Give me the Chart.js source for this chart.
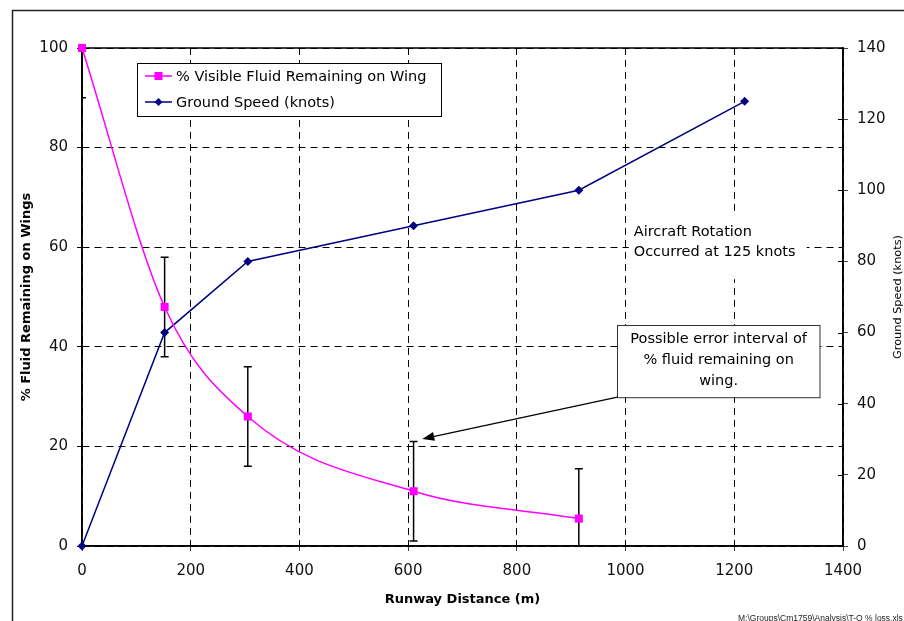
<!DOCTYPE html>
<html>
<head>
<meta charset="utf-8">
<script src="https://cdn.jsdelivr.net/npm/chart.js@4.4.0/dist/chart.umd.min.js"></script>
<style>
  html, body { margin: 0; padding: 0; background: #fff; }
</style>
</head>
<body>
<canvas id="chart" width="904" height="621"></canvas>
<script>
// runway distance (m) where fluid was measured
const fluidDistance = [0, 152, 305, 610, 914];
const fluidRemaining = [100, 48, 26, 11, 5.5];
const fluidError = [10, 10, 10, 10, 10];

const speedDistance = [0, 152, 305, 610, 914, 1219];
const groundSpeed = [0, 60, 80, 90, 100, 125];

const xTicks = [0, 200, 400, 600, 800, 1000, 1200, 1400];
const fluidTicks = [0, 20, 40, 60, 80, 100];
const speedTicks = [0, 20, 40, 60, 80, 100, 120, 140];

const FONT = "'DejaVu Sans', Verdana, sans-serif";

const extras = {
  id: "extras",
  beforeDatasetsDraw(chart) {
    const { ctx, chartArea: a, scales } = chart;
    const x = scales.x, y = scales.y;
    ctx.save();
    // plot area frame
    ctx.strokeStyle = "#000";
    ctx.lineWidth = 1.5;
    ctx.strokeRect(a.left, a.top, a.right - a.left, a.bottom - a.top);
    // inward half of the cross ticks
    ctx.lineWidth = 1;
    scales.y1.ticks.forEach(t => {
      const py = Math.round(scales.y1.getPixelForValue(t.value)) + 0.5;
      ctx.beginPath(); ctx.moveTo(a.right - 5, py); ctx.lineTo(a.right, py); ctx.stroke();
    });
    // error bars
    ctx.beginPath();
    ctx.rect(a.left, a.top, a.right - a.left, a.bottom - a.top);
    ctx.clip();
    ctx.strokeStyle = "#000";
    ctx.lineWidth = 1.5;
    fluidDistance.forEach((d, i) => {
      const px = x.getPixelForValue(d);
      const top = y.getPixelForValue(fluidRemaining[i] + fluidError[i]);
      const bot = y.getPixelForValue(fluidRemaining[i] - fluidError[i]);
      ctx.beginPath();
      ctx.moveTo(px, top); ctx.lineTo(px, bot);
      ctx.moveTo(px - 4, top); ctx.lineTo(px + 4, top);
      ctx.moveTo(px - 4, bot); ctx.lineTo(px + 4, bot);
      ctx.stroke();
    });
    ctx.restore();
  },
  afterDatasetsDraw(chart) {
    const { ctx, scales } = chart;
    const x = scales.x, y = scales.y;
    ctx.save();
    ctx.font = "14.5px " + FONT;
    ctx.textBaseline = "middle";

    // legend
    ctx.fillStyle = "#fff";
    ctx.fillRect(137, 63, 304, 53);
    ctx.strokeStyle = "#000";
    ctx.lineWidth = 1;
    ctx.strokeRect(137.5, 63.5, 304, 53);
    const items = chart.data.datasets;
    items.forEach((ds, i) => {
      const ly = 76 + i * 26;
      ctx.strokeStyle = ds.borderColor;
      ctx.lineWidth = 1.5;
      ctx.beginPath(); ctx.moveTo(145, ly); ctx.lineTo(172, ly); ctx.stroke();
      ctx.fillStyle = ds.backgroundColor;
      if (ds.pointStyle === "rect") {
        ctx.fillRect(154.5, ly - 4, 8, 8);
      } else {
        ctx.beginPath();
        ctx.moveTo(158.5, ly - 4); ctx.lineTo(162.5, ly); ctx.lineTo(158.5, ly + 4); ctx.lineTo(154.5, ly);
        ctx.closePath(); ctx.fill();
      }
      ctx.fillStyle = "#000";
      ctx.textAlign = "left";
      ctx.fillText(ds.label, 176, ly + 1);
    });

    // rotation note
    const nx = x.getPixelForValue(1015);
    const ny1 = y.getPixelForValue(63), ny2 = y.getPixelForValue(58.9);
    ctx.fillStyle = "#fff";
    ctx.fillRect(nx - 5, ny1 - 19, 178, 66);
    ctx.fillStyle = "#000";
    ctx.fillText("Aircraft Rotation", nx, ny1);
    ctx.fillText("Occurred at 125 knots", nx, ny2);

    // error interval callout
    const bx1 = x.getPixelForValue(985), bx2 = x.getPixelForValue(1357.5);
    const by1 = y.getPixelForValue(44.4), by2 = y.getPixelForValue(29.9);
    ctx.fillStyle = "#fff";
    ctx.fillRect(bx1, by1, bx2 - bx1, by2 - by1);
    ctx.strokeStyle = "#333";
    ctx.lineWidth = 1;
    ctx.strokeRect(Math.round(bx1) + 0.5, Math.round(by1) + 0.5, bx2 - bx1, by2 - by1);
    ctx.fillStyle = "#000";
    ctx.textAlign = "center";
    const cx = (bx1 + bx2) / 2;
    ["Possible error interval of", "% fluid remaining on", "wing."].forEach((s, i) => {
      ctx.fillText(s, cx, by1 + 14 + i * 21);
    });
    // arrow
    const tipX = x.getPixelForValue(626), tipY = y.getPixelForValue(21.5);
    const sx = bx1, sy = by2;
    const ang = Math.atan2(tipY - sy, tipX - sx);
    ctx.strokeStyle = "#000";
    ctx.lineWidth = 1.2;
    ctx.beginPath();
    ctx.moveTo(sx, sy);
    ctx.lineTo(tipX - 10 * Math.cos(ang), tipY - 10 * Math.sin(ang));
    ctx.stroke();
    ctx.fillStyle = "#000";
    ctx.beginPath();
    ctx.moveTo(tipX, tipY);
    ctx.lineTo(tipX - 12 * Math.cos(ang) + 4.5 * Math.sin(ang), tipY - 12 * Math.sin(ang) - 4.5 * Math.cos(ang));
    ctx.lineTo(tipX - 12 * Math.cos(ang) - 4.5 * Math.sin(ang), tipY - 12 * Math.sin(ang) + 4.5 * Math.cos(ang));
    ctx.closePath();
    ctx.fill();
    ctx.restore();
  },
  afterDraw(chart) {
    const { ctx, chartArea: a } = chart;
    ctx.save();
    // outer chart frame
    ctx.strokeStyle = "#222";
    ctx.lineWidth = 1.5;
    ctx.strokeRect(12.5, 10.5, 1000, 1000);
    // right axis title, reading upward
    ctx.fillStyle = "#000";
    ctx.font = "11.3px " + FONT;
    ctx.textAlign = "center";
    ctx.textBaseline = "middle";
    ctx.translate(898, (a.top + a.bottom) / 2);
    ctx.rotate(-Math.PI / 2);
    ctx.fillText("Ground Speed (knots)", 0, 0);
    ctx.restore();
    // file path footer
    ctx.save();
    ctx.fillStyle = "#222";
    ctx.font = "8.5px 'Liberation Sans', Arial, sans-serif";
    ctx.textAlign = "left";
    ctx.textBaseline = "top";
    ctx.fillText("M:\\Groups\\Cm1759\\Analysis\\T-O % loss.xls", 738, 614);
    ctx.restore();
  }
};

const tickFont = { family: FONT, size: 15 };
const plain = v => String(v);

new Chart(document.getElementById("chart"), {
  type: "line",
  data: {
    datasets: [{
      label: "% Visible Fluid Remaining on Wing",
      data: fluidDistance.map((d, i) => ({ x: d, y: fluidRemaining[i] })),
      yAxisID: "y",
      borderColor: "#ff00ff",
      backgroundColor: "#ff00ff",
      borderWidth: 1.5,
      pointStyle: "rect",
      pointRadius: 5.7,
      pointBorderWidth: 0,
      cubicInterpolationMode: "monotone",
      clip: false
    }, {
      label: "Ground Speed (knots)",
      data: speedDistance.map((d, i) => ({ x: d, y: groundSpeed[i] })),
      yAxisID: "y1",
      borderColor: "#000080",
      backgroundColor: "#000080",
      borderWidth: 1.5,
      pointStyle: "rectRot",
      pointRadius: 4.5,
      pointBorderWidth: 0,
      tension: 0,
      clip: false
    }]
  },
  options: {
    responsive: false,
    animation: false,
    events: [],
    layout: { padding: { top: 48, left: 0, right: 0, bottom: 0 }, autoPadding: false },
    plugins: { legend: { display: false }, tooltip: { enabled: false } },
    scales: {
      x: {
        type: "linear",
        min: 0, max: 1400,
        afterBuildTicks: s => { s.ticks = xTicks.map(v => ({ value: v })); },
        afterFit: s => { s.height = 75; },
        ticks: { font: tickFont, color: "#111", padding: 11, maxRotation: 0, callback: plain },
        grid: { color: "#000", lineWidth: 1, tickLength: 5, tickBorderDash: [1, 0], tickColor: "#000" },
        border: { display: true, color: "#000", width: 1.5, dash: [7, 5] },
        title: { display: true, text: "Runway Distance (m)", color: "#000",
                 font: { family: FONT, size: 13, weight: "bold" }, padding: { top: 0, bottom: 14 } }
      },
      y: {
        position: "left",
        min: 0, max: 100,
        afterBuildTicks: s => { s.ticks = fluidTicks.map(v => ({ value: v })); },
        afterFit: s => { s.width = 82; },
        ticks: { font: tickFont, color: "#111", padding: 9, callback: plain },
        grid: { color: "#000", lineWidth: 1, tickLength: 5, tickBorderDash: [1, 0], tickColor: "#000" },
        border: { display: true, color: "#000", width: 1.5, dash: [7, 5] },
        title: { display: true, text: "% Fluid Remaining on Wings", color: "#000",
                 font: { family: FONT, size: 13, weight: "bold" }, padding: { top: 19, bottom: 0 } }
      },
      y1: {
        position: "right",
        min: 0, max: 140,
        afterBuildTicks: s => { s.ticks = speedTicks.map(v => ({ value: v })); },
        afterFit: s => { s.width = 61; },
        ticks: { font: tickFont, color: "#111", padding: 9, callback: plain },
        grid: { drawOnChartArea: false, color: "#000", tickLength: 5, tickBorderDash: [1, 0], tickColor: "#000" },
        border: { display: true, color: "#000", width: 1.5 }
      }
    }
  },
  plugins: [extras]
});
</script>
</body>
</html>
